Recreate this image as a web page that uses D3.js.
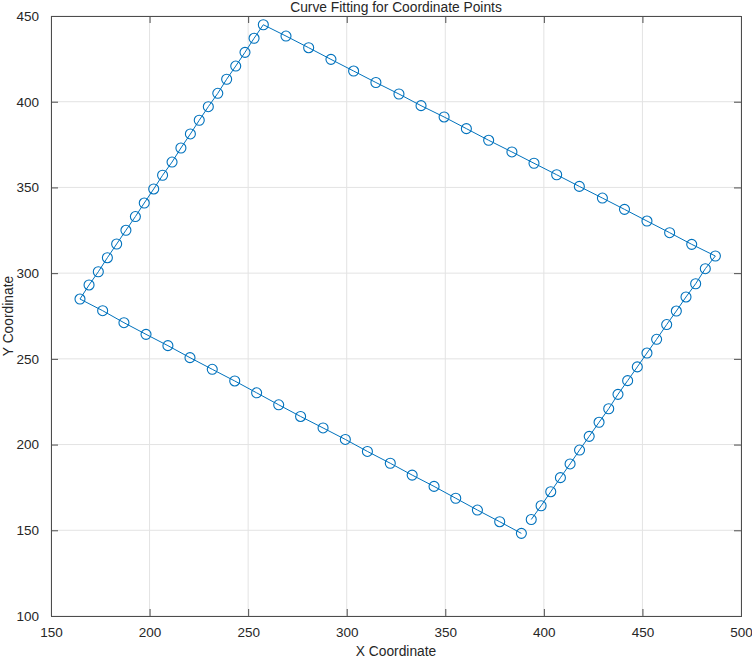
<!DOCTYPE html>
<html>
<head>
<meta charset="utf-8">
<script src="https://cdn.jsdelivr.net/npm/d3@7"></script>
<style>
  body { margin: 0; background: #fff; }
  text { font-family: "Liberation Sans", Arial, sans-serif; fill: #262626; }
</style>
</head>
<body>
<div id="canvasplot"></div>
<script>
// coordinate points (path starts bottom-right, goes round anticlockwise)
var xCoords = [
  393.6, 398.6, 403.5, 408.4, 413.3, 418.1, 423.0, 428.0, 432.9, 437.6,
  442.5, 447.4, 452.3, 457.2, 462.3, 467.2, 472.1, 477.0, 481.9, 487.0,
  475.0, 463.8, 452.3, 440.9, 429.7, 418.0, 406.5, 395.0, 383.8, 372.0,
  360.7, 349.4, 337.7, 326.5, 314.8, 303.5, 292.0, 280.7, 269.2, 257.7,
  253.0, 248.4, 243.7, 239.1, 234.6, 229.8, 225.2, 220.7, 215.9, 211.4,
  206.6, 202.1, 197.3, 192.8, 188.0, 183.3, 178.6, 174.0, 169.3, 164.7,
  176.2, 187.0, 198.2, 209.3, 220.5, 231.8, 243.2, 254.3, 265.5, 276.6,
  288.0, 299.3, 310.5, 322.1, 333.2, 344.3, 355.3, 366.3, 377.6, 388.6
];
var yCoords = [
  156.3, 164.3, 172.5, 180.7, 188.7, 196.8, 204.8, 213.0, 220.9, 229.3,
  237.3, 245.3, 253.4, 261.4, 270.0, 277.9, 286.1, 293.8, 302.6, 310.0,
  316.8, 323.6, 330.4, 337.2, 343.8, 350.6, 357.4, 364.1, 370.7, 377.5,
  384.3, 391.1, 397.7, 404.5, 411.2, 417.9, 424.7, 431.5, 438.3, 444.9,
  437.0, 428.8, 420.8, 413.1, 404.9, 397.1, 389.2, 381.2, 373.0, 364.8,
  357.1, 349.1, 340.9, 333.0, 325.0, 317.0, 309.0, 300.8, 293.1, 284.9,
  278.1, 271.1, 264.3, 257.7, 250.7, 243.9, 237.1, 230.2, 223.2, 216.4,
  209.7, 203.0, 196.0, 189.1, 182.2, 175.6, 168.7, 161.8, 155.0, 148.2
];
var xTicks = [150, 200, 250, 300, 350, 400, 450, 500];
var yTicks = [100, 150, 200, 250, 300, 350, 400, 450];

var outerWidth = 752, outerHeight = 658;
var margin = {top: 16, right: 11, bottom: 42, left: 51};
var width = outerWidth - margin.left - margin.right,
    height = outerHeight - margin.top - margin.bottom;
var lineColor = "#0072BD", axisColor = "#4d4d4d", tickLen = 7;

var svg = d3.select("#canvasplot").append("svg")
  .attr("width", outerWidth)
  .attr("height", outerHeight);

var inner = svg.append("g")
  .attr("transform", "translate(" + margin.left + "," + margin.top + ")");

var Xscale = d3.scaleLinear().domain([150, 500]).range([0, width]);
var Yscale = d3.scaleLinear().domain([100, 450]).range([height, 0]);

// grid
inner.append("g")
  .selectAll("line.gx").data(xTicks).enter().append("line")
  .attr("x1", d => Xscale(d)).attr("x2", d => Xscale(d))
  .attr("y1", 0).attr("y2", height)
  .style("stroke", "#e3e3e3").style("stroke-width", 1);
inner.append("g")
  .selectAll("line.gy").data(yTicks).enter().append("line")
  .attr("y1", d => Yscale(d)).attr("y2", d => Yscale(d))
  .attr("x1", 0).attr("x2", width)
  .style("stroke", "#e3e3e3").style("stroke-width", 1);

// data line + markers
var pts = xCoords.map(function(x, i) { return {x: x, y: yCoords[i]}; });

var curve = d3.line()
  .x(d => Xscale(d.x))
  .y(d => Yscale(d.y));

inner.append("path")
  .datum(pts)
  .attr("d", curve)
  .style("stroke", lineColor)
  .style("stroke-width", 1)
  .style("fill", "none");

inner.append("g")
  .selectAll("circle").data(pts).enter().append("circle")
  .attr("cx", d => Xscale(d.x))
  .attr("cy", d => Yscale(d.y))
  .attr("r", 5)
  .style("fill", "none")
  .style("stroke", lineColor)
  .style("stroke-width", 1.1);

// axes (MATLAB box with inward ticks on all four sides)
function styleAxis(g) {
  g.select(".domain").remove();
  g.selectAll(".tick line").style("stroke", axisColor);
  g.selectAll(".tick text")
    .style("font-family", '"Liberation Sans", Arial, sans-serif')
    .style("font-size", "13.5px")
    .style("fill", "#262626");
}

inner.append("g")
  .attr("transform", "translate(0," + height + ")")
  .call(d3.axisBottom(Xscale).tickValues(xTicks).tickSizeInner(-tickLen).tickSizeOuter(0).tickPadding(11))
  .call(styleAxis);
inner.append("g")
  .call(d3.axisTop(Xscale).tickValues(xTicks).tickSizeInner(-tickLen).tickSizeOuter(0).tickFormat(""))
  .call(styleAxis);
inner.append("g")
  .call(d3.axisLeft(Yscale).tickValues(yTicks).tickSizeInner(-tickLen).tickSizeOuter(0).tickPadding(12))
  .call(styleAxis);
inner.append("g")
  .attr("transform", "translate(" + width + ",0)")
  .call(d3.axisRight(Yscale).tickValues(yTicks).tickSizeInner(-tickLen).tickSizeOuter(0).tickFormat(""))
  .call(styleAxis);

inner.append("rect")
  .attr("x", 0).attr("y", 0)
  .attr("width", width).attr("height", height)
  .style("fill", "none")
  .style("stroke", axisColor)
  .style("stroke-width", 1)
  .attr("shape-rendering", "crispEdges");

// title and labels
svg.append("text")
  .attr("x", margin.left + width / 2)
  .attr("y", 12)
  .style("text-anchor", "middle")
  .style("font-size", "13.8px")
  .text("Curve Fitting for Coordinate Points");

svg.append("text")
  .attr("x", margin.left + width / 2)
  .attr("y", 656)
  .style("text-anchor", "middle")
  .style("font-size", "13.8px")
  .text("X Coordinate");

svg.append("text")
  .attr("transform", "translate(13," + (margin.top + height / 2) + ") rotate(-90)")
  .style("text-anchor", "middle")
  .style("font-size", "13.8px")
  .text("Y Coordinate");
</script>
</body>
</html>
